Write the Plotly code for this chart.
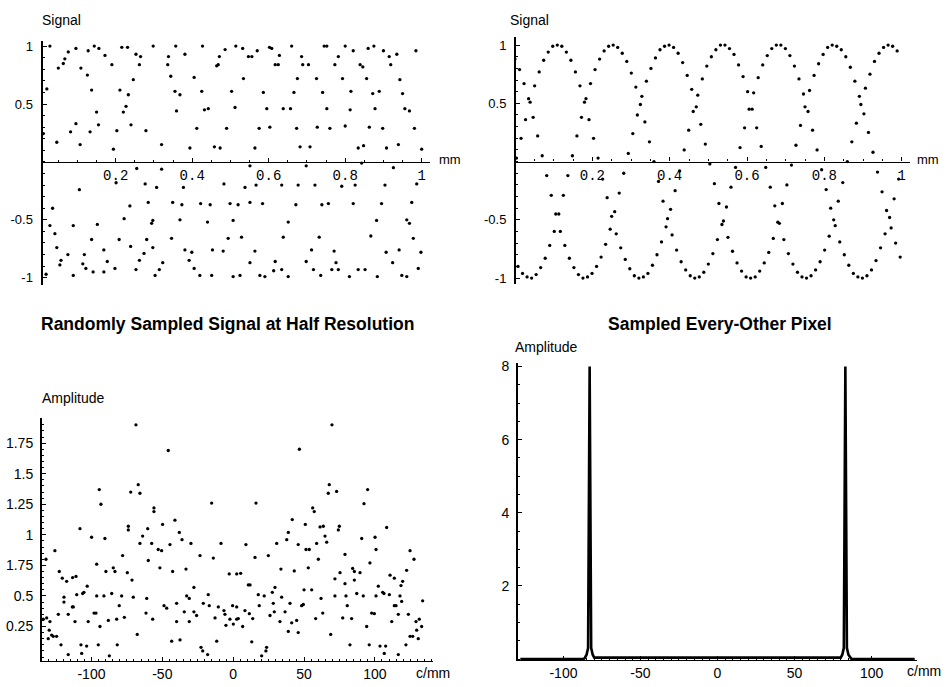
import plotly.graph_objects as go

W, H = 951, 687

# ---------------- data ----------------
# Top-left: randomly sampled signal at half resolution (position mm, value)
tl_pos = [0.028, 0.050, 0.063, 0.067, 0.076, 0.096, 0.128, 0.144, 0.156, 0.172, 0.109, 0.126, 0.020, 0.137,
          0.150, 0.096, 0.082, 0.011, 0.046, 0.107, 0.133, 0.155, 0.190, 0.211, 0.233, 0.246, 0.227, 0.220,
          0.240, 0.203, 0.194, 0.253, 0.265, 0.262, 0.279, 0.320, 0.298, 0.338, 0.336, 0.344, 0.355, 0.368,
          0.359, 0.357, 0.381, 0.405, 0.412, 0.394, 0.425, 0.432, 0.442, 0.458, 0.473, 0.427, 0.464, 0.468,
          0.471, 0.486, 0.503, 0.512, 0.490, 0.514, 0.216, 0.231,
          0.255, 0.320, 0.201, 0.105, 0.277, 0.307, 0.377, 0.483, 0.035, 0.237, 0.285, 0.349, 0.373, 0.422,
          0.447, 0.499, 0.520, 0.028, 0.089, 0.152, 0.222, 0.294, 0.297, 0.368, 0.440, 0.507, 0.041, 0.137,
          0.209, 0.281, 0.346, 0.494, 0.046, 0.075, 0.118, 0.169, 0.239, 0.274, 0.297, 0.381, 0.399, 0.453,
          0.481, 0.057, 0.054, 0.114, 0.122, 0.141, 0.178, 0.198, 0.262, 0.253, 0.323, 0.314, 0.392, 0.405,
          0.018, 0.089, 0.169, 0.303, 0.420, 0.451, 0.507,
          0.532, 0.547, 0.556, 0.570, 0.602, 0.608, 0.660, 0.745, 0.752, 0.800, 0.821, 0.860, 0.875, 0.900,
          0.915, 0.935, 0.985, 0.628, 0.686, 0.782, 0.617, 0.625, 0.689, 0.704, 0.773, 0.839, 0.846, 0.919,
          0.534, 0.675, 0.725, 0.793, 0.856, 0.943, 0.586, 0.666, 0.741, 0.815, 0.872, 0.889, 0.950, 0.595,
          0.638, 0.657, 0.752, 0.813, 0.878, 0.956, 0.968, 0.575, 0.603, 0.673, 0.727, 0.760, 0.800, 0.863,
          0.898, 0.981, 0.564, 0.682, 0.708, 0.834, 0.848, 0.908, 0.939, 1.000,
          0.551, 0.698, 0.843, 0.926, 0.538, 0.567, 0.634, 0.677, 0.721, 0.791, 0.826, 0.904, 0.987, 0.551,
          0.584, 0.671, 0.739, 0.756, 0.821, 0.895, 0.974, 0.651, 0.882, 0.961, 0.968, 0.529, 0.638, 0.732,
          0.867, 0.978, 0.564, 0.712, 0.771, 0.907, 0.941, 0.998, 0.551, 0.617, 0.698, 0.776, 0.924, 0.525,
          0.577, 0.590, 0.613, 0.634, 0.651, 0.717, 0.736, 0.765, 0.782, 0.811, 0.834, 0.852, 0.884, 0.948,
          0.961, 0.991]
tl_signal = [1.00, 0.81, 0.85, 0.89, 0.95, 0.98, 0.96, 1.00, 0.98, 0.92, 0.81, 0.75, 0.63, 0.62,
             0.43, 0.33, 0.26, 0.245, 0.17, 0.15, 0.26, 0.32, 0.84, 0.62, 0.58, 0.71, 0.48, 0.43,
             0.32, 0.27, 0.11, 0.93, 0.91, 0.84, 0.27, 0.15, 1.00, 0.91, 0.84, 0.74, 0.61, 0.58,
             0.44, 1.00, 0.93, 0.73, 0.29, 0.12, 0.61, 0.45, 0.46, 0.13, 0.12, 1.00, 0.83, 0.84,
             0.91, 0.97, 0.61, 0.47, 0.29, 1.00, 0.99, 0.99,
             -0.057, -0.063, -0.18, -0.24, -0.19, -0.22, -0.22, -0.19, -0.40, -0.38, -0.35, -0.35, -0.37, -0.36,
             -0.37, -0.36, -0.37, -0.55, -0.55, -0.54, -0.49, -0.53, -0.505, -0.50, -0.52, -0.505, -0.62, -0.67,
             -0.67, -0.67, -0.66, -0.66, -0.74, -0.80, -0.80, -0.76, -0.73, -0.79, -0.74, -0.76, -0.78, -0.76,
             -0.77, -0.85, -0.89, -0.88, -0.92, -0.95, -0.86, -0.92, -0.85, -0.93, -0.87, -0.93, -0.85, -0.92,
             -0.97, -0.98, -0.95, -0.98, -0.98, -0.98, -0.99,
             0.98, 0.91, 0.91, 0.96, 0.99, 0.98, 1.00, 1.00, 1.00, 1.00, 0.96, 0.98, 1.00, 0.96,
             0.91, 0.93, 0.96, 0.92, 0.91, 0.91, 0.84, 0.84, 0.84, 0.84, 0.84, 0.84, 0.82, 0.84,
             0.72, 0.72, 0.72, 0.72, 0.72, 0.71, 0.60, 0.60, 0.60, 0.61, 0.59, 0.61, 0.59, 0.46,
             0.46, 0.46, 0.46, 0.45, 0.46, 0.46, 0.44, 0.29, 0.30, 0.29, 0.30, 0.29, 0.31, 0.30,
             0.29, 0.29, 0.12, 0.13, 0.13, 0.12, 0.14, 0.12, 0.15, 0.11,
             -0.034, -0.034, -0.01, -0.05, -0.22, -0.20, -0.20, -0.20, -0.20, -0.21, -0.20, -0.20, -0.19, -0.35,
             -0.36, -0.37, -0.37, -0.36, -0.36, -0.36, -0.35, -0.52, -0.505, -0.50, -0.53, -0.65, -0.65, -0.65,
             -0.64, -0.66, -0.77, -0.76, -0.77, -0.78, -0.76, -0.78, -0.87, -0.86, -0.86, -0.87, -0.87, -0.98,
             -0.98, -0.99, -0.94, -0.93, -0.99, -0.93, -0.98, -0.93, -0.93, -0.99, -0.93, -0.93, -0.99, -0.98,
             -0.99, -0.92]

# Top-right: signal sampled at every other pixel (one value per sample, 256 samples over 1 mm)
tr_signal = [0.88, 0.03, -0.90, 0.79, 0.20, -0.96, 0.67, 0.36, -0.99, 0.54, 0.51, -1.00,
             0.38, 0.65, -0.97, 0.22, 0.77, -0.91, 0.05, 0.87, -0.83, -0.12, 0.94, -0.72,
             -0.29, 0.99, -0.60, -0.45, 1.00, -0.45, -0.60, 0.99, -0.29, -0.72, 0.94, -0.12,
             -0.83, 0.87, 0.05, -0.91, 0.77, 0.22, -0.97, 0.65, 0.38, -1.00, 0.51, 0.54,
             -0.99, 0.36, 0.67, -0.96, 0.20, 0.79, -0.90, 0.03, 0.88, -0.82, -0.15, 0.95,
             -0.71, -0.31, 0.99, -0.58, -0.47, 1.00, -0.43, -0.62, 0.98, -0.27, -0.74, 0.93,
             -0.10, -0.84, 0.86, 0.07, -0.92, 0.76, 0.24, -0.98, 0.64, 0.40, -1.00, 0.49,
             0.56, -0.99, 0.34, 0.69, -0.96, 0.17, 0.80, -0.89, 0.00, 0.89, -0.80, -0.17,
             0.96, -0.69, -0.34, 0.99, -0.56, -0.49, 1.00, -0.41, -0.63, 0.98, -0.25, -0.76,
             0.93, -0.08, -0.86, 0.85, 0.10, -0.93, 0.74, 0.27, -0.98, 0.62, 0.43, -1.00,
             0.47, 0.57, -0.99, 0.32, 0.71, -0.95, 0.15, 0.82, -0.88, -0.02, 0.90, -0.79,
             -0.19, 0.96, -0.67, -0.36, 1.00, -0.54, -0.51, 1.00, -0.39, -0.65, 0.97, -0.22,
             -0.77, 0.92, -0.05, -0.87, 0.83, 0.12, -0.94, 0.73, 0.29, -0.99, 0.60, 0.45,
             -1.00, 0.45, 0.59, -0.99, 0.29, 0.72, -0.94, 0.13, 0.83, -0.87, -0.05, 0.91,
             -0.78, -0.22, 0.97, -0.66, -0.38, 1.00, -0.52, -0.53, 1.00, -0.36, -0.67, 0.97,
             -0.20, -0.79, 0.91, -0.03, -0.88, 0.82, 0.14, -0.95, 0.71, 0.31, -0.99, 0.58,
             0.47, -1.00, 0.43, 0.61, -0.98, 0.27, 0.74, -0.93, 0.10, 0.84, -0.86, -0.07,
             0.92, -0.76, -0.24, 0.98, -0.64, -0.40, 1.00, -0.50, -0.55, 0.99, -0.34, -0.69,
             0.96, -0.18, -0.80, 0.90, 0.00, -0.89, 0.81, 0.17, -0.96, 0.69, 0.33, -0.99,
             0.56, 0.49, -1.00, 0.41, 0.63, -0.98, 0.25, 0.75, -0.93, 0.08, 0.86, -0.85,
             -0.09, 0.93, -0.74, -0.26, 0.98, -0.62, -0.42, 1.00, -0.48, -0.57, 0.99, -0.32,
             -0.70, 0.95, -0.15, -0.82]
tr_samples_per_mm = 256
tr_pos = [i / tr_samples_per_mm for i in range(len(tr_signal))]

# Bottom-left: amplitude spectrum of the randomly sampled signal (c/mm, amplitude)
bl_freq = [-68.6, -45.8, -94.5, -67, -72.3, -65.8, -93.3, -55.9, -55.9, -15.2, -108.1, -74, -74, -63.9,
           -60.3, -49.8, -41.1, -38, -36.1, -90.5, -99.9, -65.8, -57.5, -52.9, -50.5, -44.6, -29.8, -8.6,
           -132.1, -125.8, -122.7, -96.3, -89.8, -84.6, -83.4, -78, -74.7, -71.4, -59.9, -51.7, -42.7, -33.3,
           -23.4, -14, -2.8, 2.5, -120.6, -117.5, -113.3, -110.9, -103, -119.4, -119.4, -113.5, -112.8,
           -110.4, -106.2, -105.3, -96.3, -91.2, -85.7, -80.4, -78.7, -70.5, -61, -48.8, -46.9, -39.9, -32.8,
           -31, -27.7, -21.1, -17.6, -16.9, -27.7, -25.8, -34.5, -31, -12.8, -10.5, -6.5, -5.8, -2.3, 0.1,
           2.5, 2.5, -5.1, -134, -131.6, -129.3, -130.5, -129.8, -128.1, -127, -124.6, -123.4, -121.5,
           -116.4, -111.6, -102.3, -98.2, -96.8, -94, -88.1, -82.2, -76.8, -67.7, -61.5, -56.8, -43.4,
           -39.9, -37.5, -22.7, -21.5, -18, -11.6, -116.4, -107.4, -106.9, -103.4, -95.2, -87.4, -81.8,
           69.7, 46.7, 67.8, 67.1, 73, 94.9, 92.3, 16.1, 56.1, 57.2, 41.7, 50.9, 61.3, 63.6, 74.2, 74.9,
           108.3, 38.9, 37.8, 64.8, 66, 58.9, 45.9, 30.7, 9, 90.7, 100.1, 100.8, 51.4, 53.7, 60.1, 78.9,
           96.5, 124.8, 127.6, 15.4, 24.8, 33.7, 43.1, 53, 75.4, 71.8, 78.9, 84.3, 85.5, 89.5, 85.5, 110.7,
           113.7, 119.6, 118.4, 122.4, 102.4, 5.3, 10.7, 11.9, 29.5, 50, 55.4, 17.7, 21.9, 27.6, 34.2, 71.8,
           79.6, 87.2, 91.8, 100.8, 105.5, 106.4, 110.2, 117.7, 118.9, 133.7, 18.4, 28.3, 40.1, 48.3, 49.5,
           62, 80.5, 113.7, 114.9, -0.4, 8.3, 11.4, 36.6, 29, 26, 63.2, 97.7, 99.6, 116.5, 123.6, 3.6, 6.7,
           13.8, 33, 41.3, 44.8, 58.2, 77.3, 83.6, 94.2, 111.9, 129, 131.3, 133, 129.5, 124.8, 126.7, 130.6,
           38.9, 45.9, 68.8, 13.1, 23.6, 23.1, 20.1, 82.4, 96, 103.6, 107.6, 106.6, 116.5, 121.9]
bl_amp = [1.90, 1.69, 1.37, 1.41, 1.35, 1.34, 1.25, 1.22, 1.19, 1.26, 1.05, 1.07, 1.04, 0.99,
          1.05, 1.085, 1.12, 1.02, 0.96, 0.97, 0.98, 0.93, 0.93, 0.88, 0.87, 0.92, 0.93, 0.93,
          0.80, 0.87, 0.70, 0.76, 0.70, 0.73, 0.70, 0.83, 0.69, 0.63, 0.79, 0.73, 0.70, 0.72,
          0.83, 0.81, 0.68, 0.68, 0.645, 0.62, 0.65, 0.66, 0.58, 0.49, 0.45, 0.41, 0.41,
          0.51, 0.52, 0.53, 0.50, 0.50, 0.52, 0.42, 0.50, 0.49, 0.48, 0.42, 0.40, 0.44, 0.50,
          0.48, 0.57, 0.44, 0.51, 0.42, 0.37, 0.34, 0.37, 0.29, 0.32, 0.41, 0.38, 0.35, 0.31, 0.27,
          0.31, 0.41, 0.26, 0.31, 0.32, 0.29, 0.15, 0.22, 0.18, 0.17, 0.17, 0.35, 0.10,
          0.35, 0.29, 0.29, 0.36, 0.36, 0.25, 0.30, 0.31, 0.325, 0.185, 0.36, 0.31, 0.13,
          0.29, 0.14, 0.08, 0.05, 0.02, 0.13, 0.02, 0.10, 0.03, 0.09, 0.10, 0.01, 0.10,
          1.90, 1.70, 1.41, 1.34, 1.355, 1.37, 1.255, 1.26, 1.22, 1.19, 1.125, 1.085, 1.065, 1.07, 1.04, 1.07,
          1.06, 1.02, 0.96, 0.99, 0.94, 0.93, 0.92, 0.93, 0.92, 0.97, 0.98, 0.88, 0.88, 0.88, 0.80, 0.84,
          0.77, 0.87, 0.80, 0.815, 0.83, 0.72, 0.705, 0.73, 0.69, 0.64, 0.60, 0.725, 0.70, 0.69, 0.63, 0.67,
          0.645, 0.62, 0.585, 0.71, 0.58, 0.685, 0.59, 0.59, 0.57, 0.55, 0.55, 0.51, 0.50, 0.53, 0.49, 0.50,
          0.50, 0.52, 0.50, 0.50, 0.53, 0.52, 0.51, 0.50, 0.455, 0.46, 0.42, 0.44, 0.44, 0.42, 0.43,
          0.48, 0.42, 0.42, 0.42, 0.42, 0.38, 0.355, 0.37, 0.37, 0.34, 0.36, 0.36, 0.355, 0.35, 0.35, 0.315, 0.25,
          0.315, 0.29, 0.28, 0.30, 0.315, 0.32, 0.315, 0.25, 0.29, 0.29, 0.31, 0.25, 0.22, 0.17, 0.17, 0.15,
          0.21, 0.20, 0.185, 0.125, 0.08, 0.05, 0.01, 0.10, 0.10, 0.09, 0.09, 0.03, 0.02, 0.10]

# Bottom-right: amplitude spectrum of the every-other-pixel signal
br_freq = [-128, -87, -86, -85, -84, -83, -82, -81, -80, 80, 81, 82, 83, 84, 85, 86, 87, 128]
br_amp = [0, 0, 0.04, 0.12, 0.3, 8.0, 0.3, 0.12, 0.04, 0.04, 0.12, 0.3, 8.0, 0.3, 0.12, 0.04, 0, 0]

# tick labels
top_x_ticks = [0.2, 0.4, 0.6, 0.8, 1.0]
top_x_text = ["0.2", "0.4", "0.6", "0.8", "1"]
top_y_ticks = [-1, -0.5, 0.5, 1]
top_y_text = ["-1", "-0.5", "0.5", "1"]
freq_ticks = [-100, -50, 0, 50, 100]
freq_text = ["-100", "-50", "0", "50", "100"]
bl_y_ticks = [0.25, 0.5, 0.75, 1.0, 1.25, 1.5, 1.75]
bl_y_text = ["0.25", "0.5", "1.75", "1", "1.25", "1.5", "1.75"]
br_y_ticks = [2, 4, 6, 8]
br_y_text = ["2", "4", "6", "8"]

# ---------------- figure ----------------
def pxx(v):
    return v / W


def pyy(v):
    return 1 - v / H


SANS = "Liberation Sans, Arial, Helvetica, sans-serif"
MONO = "Liberation Mono, Courier New, monospace"

fig = go.Figure()
mk = dict(color="black", size=3.3, symbol="circle")
fig.add_trace(go.Scatter(x=tl_pos, y=tl_signal, mode="markers", marker=mk, xaxis="x", yaxis="y", showlegend=False))
fig.add_trace(go.Scatter(x=tr_pos, y=tr_signal, mode="markers", marker=mk, xaxis="x2", yaxis="y2", showlegend=False))
fig.add_trace(go.Scatter(x=bl_freq, y=bl_amp, mode="markers", marker=mk, xaxis="x3", yaxis="y3", showlegend=False))
fig.add_trace(go.Scatter(x=br_freq, y=br_amp, mode="lines", line=dict(color="black", width=2.6),
                         xaxis="x4", yaxis="y4", showlegend=False))


def yzero_pos(dom, rng):
    f = (0 - rng[0]) / (rng[1] - rng[0])
    return dom[0] + f * (dom[1] - dom[0])


common = dict(showgrid=False, zeroline=False, showline=True, linecolor="black", color="black",
              ticks="inside", tickcolor="black", tickwidth=1)

# top-left
tl_xdom = [pxx(41.5), pxx(430)]
tl_xr = [0.006, 1.0217]
tl_ydom = [pyy(283), pyy(37)]
tl_yr = [-1.059, 1.047]
# top-right
tr_xdom = [pxx(515), pxx(910)]
tr_xr = [0.0, 1.0215]
tr_ydom = [pyy(282), pyy(33)]
tr_yr = [-1.047, 1.072]
# bottom-left
bl_xdom = [pxx(42), pxx(433)]
bl_xr = [-134.9, 141.0]
bl_ydom = [pyy(663), pyy(418)]
bl_yr = [-0.034, 1.953]
# bottom-right
br_xdom = [pxx(518), pxx(917)]
br_xr = [-129.5, 129.5]
br_ydom = [pyy(662), pyy(362)]
br_yr = [-0.03, 8.1]

top_x_common = dict(common, tickvals=top_x_ticks, ticktext=top_x_text, ticklen=4, linewidth=1.3,
                    tickfont=dict(family=MONO, size=14, color="black"),
                    minor=dict(dtick=0.05, tick0=0, ticklen=2, ticks="inside", tickcolor="black", showgrid=False))
top_y_common = dict(common, tickvals=top_y_ticks, ticktext=top_y_text, ticklen=4, linewidth=2,
                    tickfont=dict(family=SANS, size=13, color="black"), ticklabelstandoff=5,
                    minor=dict(dtick=0.1, tick0=0, ticklen=2, ticks="inside", tickcolor="black", showgrid=False))
freq_x_common = dict(common, tickvals=freq_ticks, ticktext=freq_text, ticklen=4, linewidth=1.3,
                     tickfont=dict(family=SANS, size=14, color="black"),
                     minor=dict(dtick=5, tick0=0, ticklen=2, ticks="inside", tickcolor="black", showgrid=False))

fig.update_layout(
    width=W, height=H, margin=dict(l=0, r=0, t=0, b=0),
    paper_bgcolor="white", plot_bgcolor="white",
    xaxis=dict(top_x_common, domain=tl_xdom, range=tl_xr, anchor="free",
               position=yzero_pos(tl_ydom, tl_yr)),
    yaxis=dict(top_y_common, domain=tl_ydom, range=tl_yr, anchor="free", position=tl_xdom[0]),
    xaxis2=dict(top_x_common, domain=tr_xdom, range=tr_xr, anchor="free",
                position=yzero_pos(tr_ydom, tr_yr)),
    yaxis2=dict(top_y_common, domain=tr_ydom, range=tr_yr, anchor="free", position=tr_xdom[0]),
    xaxis3=dict(freq_x_common, domain=bl_xdom, range=bl_xr, anchor="y3"),
    yaxis3=dict(common, domain=bl_ydom, range=bl_yr, anchor="x3", tickvals=bl_y_ticks, ticktext=bl_y_text,
                ticklen=4, linewidth=2, tickfont=dict(family=SANS, size=14, color="black"),
                ticklabelstandoff=4,
                minor=dict(dtick=0.05, tick0=0, ticklen=2, ticks="inside", tickcolor="black", showgrid=False)),
    xaxis4=dict(freq_x_common, domain=br_xdom, range=br_xr, anchor="y4"),
    yaxis4=dict(common, domain=br_ydom, range=br_yr, anchor="x4", tickvals=br_y_ticks, ticktext=br_y_text,
                ticklen=4, linewidth=2, tickfont=dict(family=SANS, size=14, color="black"),
                ticklabelstandoff=4,
                minor=dict(dtick=0.5, tick0=0, ticklen=2, ticks="inside", tickcolor="black", showgrid=False)),
)

ann = []


def text(x, y, s, size=14, bold=False, xanchor="left", family=SANS):
    ann.append(dict(x=pxx(x), y=pyy(y), xref="paper", yref="paper", text=("<b>%s</b>" % s) if bold else s,
                    showarrow=False, xanchor=xanchor, yanchor="middle",
                    font=dict(family=family, size=size, color="black")))


text(40, 16, "Signal", 14)
text(508, 16, "Signal", 14)
text(437, 157, "mm", 13)
text(915, 157, "mm", 13)
text(227, 323, "Randomly Sampled Signal at Half Resolution", 17.5, bold=True, xanchor="center")
text(720, 323, "Sampled Every-Other Pixel", 17.5, bold=True, xanchor="center")
text(40, 397, "Amplitude", 14)
text(513, 346, "Amplitude", 14)
text(414, 675, "c/mm", 14)
text(905, 673, "c/mm", 14)
fig.update_layout(annotations=ann)

fig.write_html("out.html")
